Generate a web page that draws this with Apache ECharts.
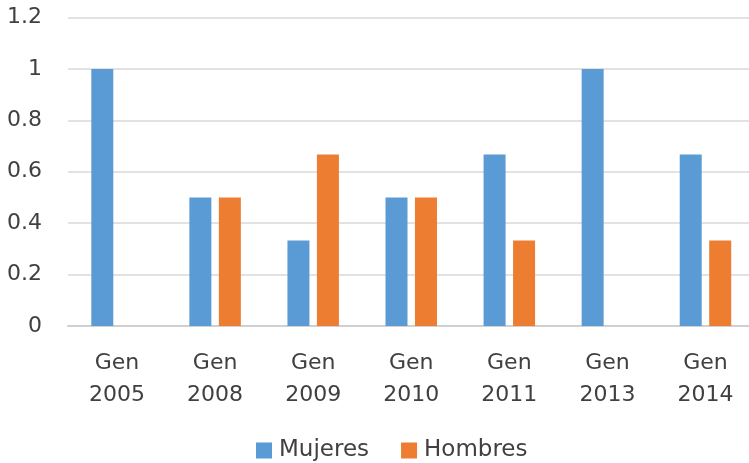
<!DOCTYPE html>
<html>
<head>
<meta charset="utf-8">
<script src="https://cdn.jsdelivr.net/npm/echarts@6/dist/echarts.min.js"></script>
<style>
  html, body { margin: 0; padding: 0; background: #fff; }
  #chart { width: 749px; height: 463px; }
</style>
</head>
<body>
<div id="chart"></div>
<script>
// datos del grafico
var categories = ['Gen\n2005', 'Gen\n2008', 'Gen\n2009', 'Gen\n2010', 'Gen\n2011', 'Gen\n2013', 'Gen\n2014'];
var mujeres = [1, 0.5, 0.333, 0.5, 0.667, 1, 0.667];
var hombres = [0, 0.5, 0.667, 0.5, 0.333, 0, 0.333];
var seriesNames = ['Mujeres', 'Hombres'];
var colors = ['#5b9bd5', '#ed7d31'];

var textColor = '#404040';
var fontFamily = 'DejaVu Sans';

var myChart = echarts.init(document.getElementById('chart'), null, { renderer: 'canvas' });
var option = {
    animation: false,
    color: colors,
    textStyle: { fontFamily: fontFamily },
    grid: {
        left: 68,
        width: 686.5,
        top: 17.5,
        bottom: 137,
        outerBoundsMode: 'none'
    },
    legend: {
        top: 434,
        left: 251,
        itemWidth: 16,
        itemHeight: 16,
        itemGap: 32,
        icon: 'rect',
        data: seriesNames,
        textStyle: { fontSize: 23, color: textColor, fontFamily: fontFamily, padding: [0, 0, 0, 2] }
    },
    xAxis: {
        type: 'category',
        data: categories,
        axisLine: { lineStyle: { color: '#d0d0d0', width: 2 } },
        axisTick: { show: false },
        axisLabel: {
            color: textColor,
            fontSize: 22,
            lineHeight: 32,
            margin: 21,
            interval: 0,
            fontFamily: fontFamily
        }
    },
    yAxis: {
        type: 'value',
        min: 0,
        max: 1.2,
        interval: 0.2,
        axisLine: { show: false },
        axisTick: { show: false },
        splitLine: { lineStyle: { color: '#d9d9d9', width: 1.5 } },
        axisLabel: {
            color: textColor,
            fontSize: 22,
            margin: 26,
            fontFamily: fontFamily,
            formatter: function (v) { return String(Math.round(v * 10) / 10); }
        }
    },
    series: [
        {
            name: seriesNames[0],
            type: 'bar',
            data: mujeres,
            barWidth: 22,
            barGap: '34%'
        },
        {
            name: seriesNames[1],
            type: 'bar',
            data: hombres,
            barWidth: 22,
            barGap: '34%'
        }
    ]
};
myChart.setOption(option);
</script>
</body>
</html>
